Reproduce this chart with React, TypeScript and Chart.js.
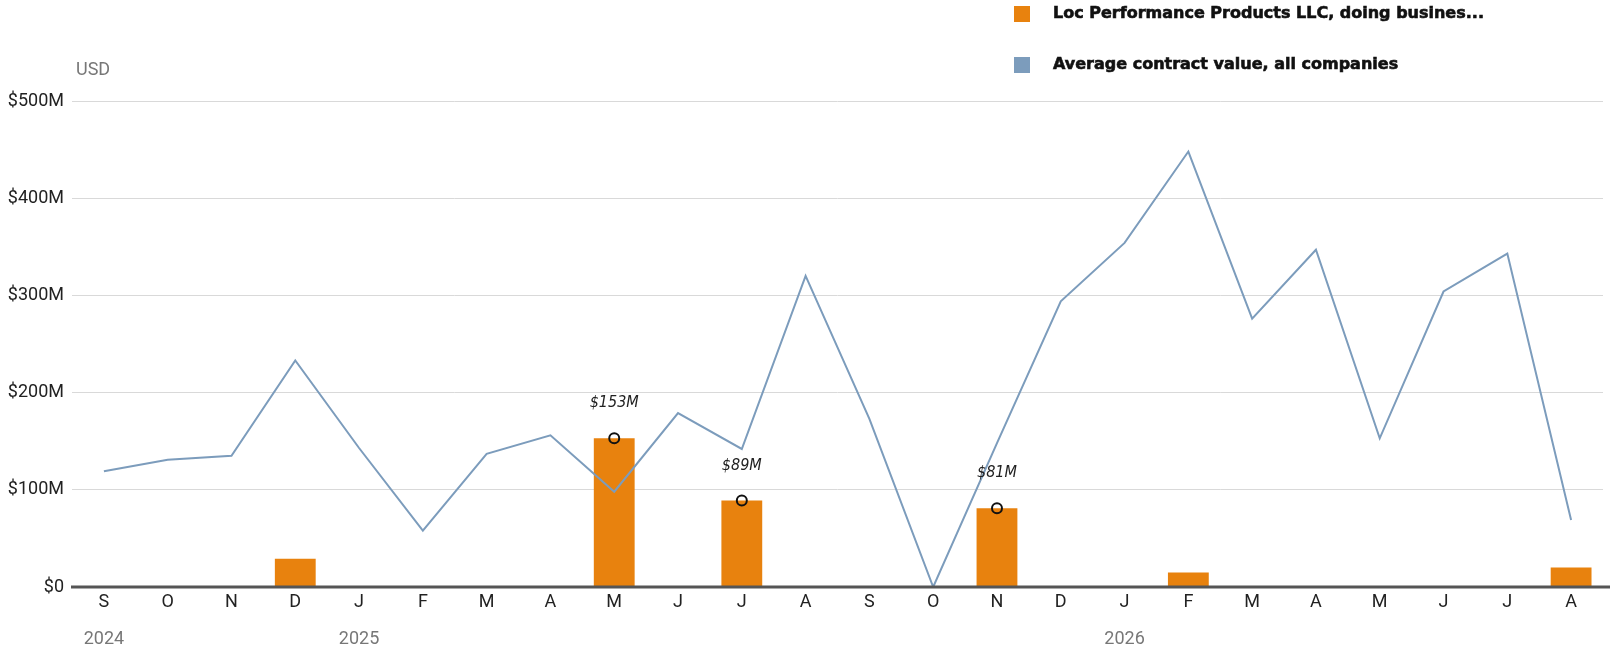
import { useEffect, useRef } from 'react'
import Chart from 'chart.js/auto'

// one entry per month, Sep 2024 .. Aug 2026
const categories = [
  '2024-09', '2024-10', '2024-11', '2024-12',
  '2025-01', '2025-02', '2025-03', '2025-04', '2025-05', '2025-06',
  '2025-07', '2025-08', '2025-09', '2025-10', '2025-11', '2025-12',
  '2026-01', '2026-02', '2026-03', '2026-04', '2026-05', '2026-06', '2026-07', '2026-08'
]
const monthLabels = ['S', 'O', 'N', 'D', 'J', 'F', 'M', 'A', 'M', 'J', 'J', 'A', 'S', 'O', 'N', 'D', 'J', 'F', 'M', 'A', 'M', 'J', 'J', 'A']
const yearLabels = ['2024', '', '', '', '2025', '', '', '', '', '', '', '', '', '', '', '', '2026', '', '', '', '', '', '', '']

const seriesNames = ['Loc Performance Products LLC, doing busines...', 'Average contract value, all companies']

// USD millions
const locValues = [0, 0, 0, 29, 0, 0, 0, 0, 153, 0, 89, 0, 0, 0, 81, 0, 0, 15, 0, 0, 0, 0, 0, 20]
const avgValues = [119, 131, 135, 233, 143, 58, 137, 156, 98, 179, 142, 320, 173, 0, 148, 294, 354, 448, 276, 347, 153, 304, 343, 69]
const highlightValues = [null, null, null, null, null, null, null, null, 153, null, 89, null, null, null, 81, null, null, null, null, null, null, null, null, null]

const yTicks = [0, 100, 200, 300, 400, 500]
const yTickLabels = ['$0', '$100M', '$200M', '$300M', '$400M', '$500M']
const unitLabel = 'USD'

const LOC_COLOR = '#e8820e'
const AVG_COLOR = '#7c9cbc'

const decorPlugin = {
  id: 'decor',
  afterDatasetsDraw(chart) {
    const { ctx, chartArea, scales } = chart
    ctx.save()

    // baseline on top of the bars
    const y0 = scales.y.getPixelForValue(0)
    ctx.strokeStyle = '#555'
    ctx.lineWidth = 3
    ctx.beginPath()
    ctx.moveTo(chartArea.left - 1, y0)
    ctx.lineTo(chart.width, y0)
    ctx.stroke()

    // value labels above highlighted bars
    ctx.font = 'italic 16px "Liberation Sans Narrow", "DejaVu Sans Condensed", sans-serif'
    ctx.fillStyle = '#222'
    ctx.textAlign = 'center'
    ctx.textBaseline = 'middle'
    highlightValues.forEach((v, i) => {
      if (v == null) return
      const x = scales.x.getPixelForValue(i)
      const y = scales.y.getPixelForValue(v)
      ctx.fillText(`$${v}M`, x, y - 35)
    })

    // unit label
    ctx.font = '18px Roboto, sans-serif'
    ctx.fillStyle = '#777'
    ctx.textAlign = 'left'
    ctx.fillText(unitLabel, chartArea.left + 4, chartArea.top - 31)

    // legend
    const colors = [LOC_COLOR, AVG_COLOR]
    const rowTops = [6, 57]
    ctx.font = 'bold 16px "DejaVu Sans", sans-serif'
    ctx.textBaseline = 'alphabetic'
    ctx.lineWidth = 0.6
    seriesNames.forEach((name, i) => {
      ctx.fillStyle = colors[i]
      ctx.fillRect(1014, rowTops[i], 16, 16)
      ctx.fillStyle = '#111'
      ctx.strokeStyle = '#111'
      ctx.fillText(name, 1053, rowTops[i] + 12)
      ctx.strokeText(name, 1053, rowTops[i] + 12)
    })

    ctx.restore()
  }
}

const ContractChart = () => {
  const chartRef = useRef(null)
  const chartInstance = useRef(null)

  useEffect(() => {
    document.body.style.margin = '0'
    if (chartRef && chartRef.current) {
      const ctx = chartRef.current.getContext('2d')

      if (chartInstance.current) {
        chartInstance.current.destroy()
      }

      chartInstance.current = new Chart(ctx, {
        type: 'bar',
        data: {
          labels: categories,
          datasets: [
            {
              type: 'line',
              label: 'highlights',
              data: highlightValues,
              showLine: false,
              pointRadius: 5,
              pointBorderWidth: 2,
              pointBorderColor: '#111',
              pointBackgroundColor: 'rgba(0,0,0,0)',
              order: 1
            },
            {
              type: 'line',
              label: seriesNames[1],
              data: avgValues,
              borderColor: AVG_COLOR,
              borderWidth: 2,
              pointRadius: 0,
              tension: 0,
              fill: false,
              order: 2
            },
            {
              label: seriesNames[0],
              data: locValues,
              backgroundColor: LOC_COLOR,
              borderWidth: 0,
              barPercentage: 0.64,
              categoryPercentage: 1,
              order: 3
            }
          ]
        },
        options: {
          animation: false,
          responsive: true,
          maintainAspectRatio: false,
          events: [],
          layout: {
            padding: { top: 101, right: 4, bottom: 5, left: 0 }
          },
          plugins: {
            legend: { display: false },
            tooltip: { enabled: false }
          },
          scales: {
            x: {
              offset: true,
              grid: { display: false, drawTicks: false },
              border: { display: false },
              afterFit: (scale) => {
                scale.height = 26
              },
              ticks: {
                autoSkip: false,
                maxRotation: 0,
                padding: 5,
                color: '#222',
                font: { family: 'Roboto', size: 18 },
                callback: (_v, i) => monthLabels[i]
              }
            },
            x2: {
              type: 'category',
              position: 'bottom',
              weight: 1,
              offset: true,
              grid: { display: false, drawTicks: false },
              border: { display: false },
              afterFit: (scale) => {
                scale.height = 38
              },
              ticks: {
                autoSkip: false,
                maxRotation: 0,
                padding: 16,
                color: '#777',
                font: { family: 'Roboto', size: 18 },
                callback: (_v, i) => yearLabels[i]
              }
            },
            y: {
              min: 0,
              max: 500,
              afterBuildTicks: (scale) => {
                scale.ticks = yTicks.map((value) => ({ value }))
              },
              afterFit: (scale) => {
                scale.width = 72
              },
              grid: {
                drawTicks: false,
                color: (c) => (c.tick && c.tick.value === 0 ? 'rgba(0,0,0,0)' : '#d9d9d9'),
                lineWidth: 1
              },
              border: { display: false },
              ticks: {
                padding: 8,
                color: '#222',
                font: { family: 'Roboto', size: 18 },
                callback: (_v, i) => yTickLabels[i]
              }
            }
          }
        },
        plugins: [decorPlugin]
      })
    }

    return () => {
      if (chartInstance.current) {
        chartInstance.current.destroy()
      }
    }
  }, [])

  return (
    <div style={{ position: 'relative', width: 1610, height: 656 }}>
      <canvas ref={chartRef} />
    </div>
  )
}

export default function App() {
  return <ContractChart />
}
